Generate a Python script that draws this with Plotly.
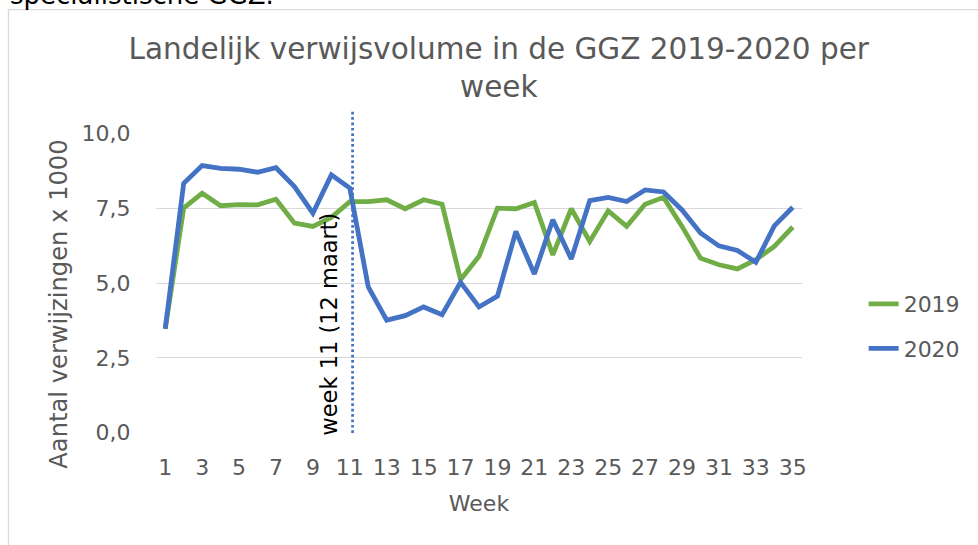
import plotly.graph_objects as go

weeks = list(range(1, 36))
v2019 = [3.47, 7.50, 8.00, 7.58, 7.62, 7.61, 7.80, 7.00, 6.89, 7.19, 7.72,
         7.72, 7.78, 7.48, 7.78, 7.63, 5.11, 5.89, 7.50, 7.48, 7.69, 5.94,
         7.48, 6.39, 7.41, 6.89, 7.63, 7.86, 6.89, 5.83, 5.61, 5.47, 5.78,
         6.22, 6.87]
v2020 = [3.47, 8.33, 8.92, 8.83, 8.80, 8.70, 8.85, 8.22, 7.33, 8.61, 8.17,
         4.87, 3.76, 3.91, 4.20, 3.94, 5.02, 4.20, 4.56, 6.72, 5.30, 7.11,
         5.80, 7.75, 7.86, 7.72, 8.11, 8.04, 7.44, 6.67, 6.24, 6.09, 5.69,
         6.91, 7.53]
ytick_vals = [0, 2.5, 5, 7.5, 10]
ytick_text = ["0,0", "2,5", "5,0", "7,5", "10,0"]
xtick_vals = list(range(1, 36, 2))

title_text = "Landelijk verwijsvolume in de GGZ 2019-2020 per<br>week"
marker_week = 11.15
marker_label = "week 11 (12 maart)"

FONT = "DejaVu Sans"
GRAY = "#595959"

fig = go.Figure()
fig.add_trace(go.Scatter(x=weeks, y=v2019, mode="lines", name="2019",
                         legendgroup="a",
                         line=dict(color="#70AD47", width=4.8)))
fig.add_trace(go.Scatter(x=weeks, y=v2020, mode="lines", name="2020",
                         legendgroup="b",
                         line=dict(color="#4472C4", width=4.8)))

fig.update_layout(
    width=978, height=545,
    margin=dict(l=156, r=176, t=133, b=112),
    paper_bgcolor="white", plot_bgcolor="white",
    font=dict(family=FONT, color=GRAY),
    title=dict(text=title_text, x=0.51, xref="container", xanchor="center",
               y=0.892, yref="container", yanchor="top",
               font=dict(size=29.5, color=GRAY, family=FONT)),
    showlegend=True,
    legend=dict(x=1.0954, xanchor="left", y=0.50, yanchor="top",
                font=dict(size=22, color=GRAY, family=FONT),
                tracegroupgap=13, bgcolor="rgba(0,0,0,0)"),
    xaxis=dict(range=[0.5, 35.5], tickvals=xtick_vals, showgrid=False,
               zeroline=False, showline=False,
               ticks="outside", ticklen=15, tickcolor="rgba(0,0,0,0)",
               tickfont=dict(size=22, color=GRAY, family=FONT),
               title=dict(text="Week", standoff=16,
                          font=dict(size=22, color=GRAY, family=FONT))),
    yaxis=dict(range=[-0.01, 10.01], tickvals=ytick_vals, ticktext=ytick_text,
               showgrid=True, gridcolor="#D9D9D9", gridwidth=1.3,
               zeroline=False, showline=False,
               ticks="outside", ticklen=20, tickcolor="rgba(0,0,0,0)",
               tickfont=dict(size=22, color=GRAY, family=FONT)),
)

# vertical dotted marker line at week 11
fig.add_shape(type="line", xref="x", yref="paper",
              x0=marker_week, x1=marker_week, y0=0, y1=1.072,
              line=dict(color="#4472C4", width=2.7, dash="2.7px,2.7px"))

fig.add_annotation(text=marker_label, xref="x", yref="y", x=9.89, y=3.62,
                   textangle=-90, showarrow=False, xanchor="center",
                   yanchor="middle",
                   font=dict(size=22.5, color="black", family=FONT))

# y axis title
fig.add_annotation(text="Aantal verwijzingen x 1000", xref="paper", yref="paper",
                   x=-0.1515, y=0.428, textangle=-90, showarrow=False,
                   xanchor="center", yanchor="middle",
                   font=dict(size=24.2, color=GRAY, family=FONT))

# chart border box (extends beyond page)
fig.add_shape(type="rect", xref="paper", yref="paper",
              x0=-0.2284, x1=1.30, y0=-0.43, y1=1.411,
              line=dict(color="#D9D9D9", width=1.3), fillcolor="rgba(0,0,0,0)",
              layer="below")

# cut-off document text at top
fig.add_annotation(text="specialistische GGZ.", xref="paper", yref="paper",
                   x=-0.2284, y=1.402, xanchor="left", yanchor="bottom",
                   showarrow=False,
                   font=dict(size=26, color="black", family=FONT))

fig.write_html("out.html", config={"displayModeBar": False},
               post_script="document.body.style.margin='0';")
